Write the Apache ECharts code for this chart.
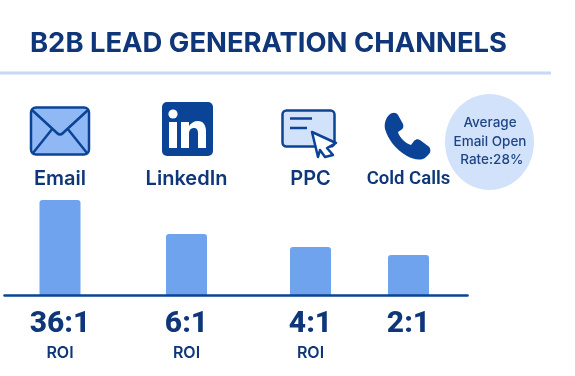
<!DOCTYPE html>
<html lang="en">
<head>
<meta charset="UTF-8">
<title>B2B Lead Generation Channels</title>
<script src="https://cdn.jsdelivr.net/npm/echarts@6/dist/echarts.min.js"></script>
<style>
    html, body { margin: 0; background: #fff; }
    #main { width: 575px; height: 376px; }
</style>
</head>
<body>
<div id="main"></div>
<script>
    var titleText = 'B2B LEAD GENERATION CHANNELS';
    var channels = ['Email', 'LinkedIn', 'PPC', 'Cold Calls'];
    var barValues = [95, 61, 48, 40];   // bars are not drawn to ROI scale in the picture
    var roiRatios = ['36:1', '6:1', '4:1', '2:1'];
    var roiCaptions = ['ROI', 'ROI', 'ROI', ''];
    var noteLines = ['Average', 'Email Open', ' Rate:28%'];

    var navy = '#0e3678', blue = '#0b4496';
    var font = 'Inter';
    var gridLefts = [39.5, 166, 290, 388];   // columns are unevenly spaced
    var nameFonts = ['Inter', 'Inter', 'Inter', 'Roboto'];   // Cold Calls is set tighter
    var nameSizes = [20, 20, 20, 18.5];

    var grids = [], xAxes = [], yAxes = [], series = [];
    channels.forEach(function (name, i) {
        grids.push({left: gridLefts[i], width: 41, top: 200, height: 95});
        xAxes.push({
            type: 'category', gridIndex: i, data: [name], position: 'bottom',
            axisLine: {show: false}, axisTick: {show: false},
            axisLabel: {
                margin: 11, interval: 0,
                formatter: function () {
                    var s = '{v|' + roiRatios[i] + '}';
                    return roiCaptions[i] ? s + '\n{r|' + roiCaptions[i] + '}' : s;
                },
                verticalAlign: 'top',
                rich: {
                    v: {fontFamily: 'Roboto', fontWeight: 800, fontSize: 30, lineHeight: 37, color: navy},
                    r: {fontFamily: font, fontWeight: 600, fontSize: 16, lineHeight: 20, color: navy}
                }
            }
        });
        xAxes.push({
            type: 'category', gridIndex: i, data: [name], position: 'top',
            axisLine: {show: false}, axisTick: {show: false},
            axisLabel: {margin: 11, interval: 0, fontFamily: nameFonts[i], fontWeight: 600, fontSize: nameSizes[i], color: navy}
        });
        yAxes.push({type: 'value', gridIndex: i, min: 0, max: 95, show: false});
        series.push({
            type: 'bar', xAxisIndex: i * 2, yAxisIndex: i, barWidth: '100%',
            data: [barValues[i]], silent: true,
            itemStyle: {color: '#6fa3ee', borderRadius: [3, 3, 0, 0]}
        });
    });

    // wide grid only for the baseline under all bars
    grids.push({left: 4.5, width: 463, top: 200, height: 95});
    xAxes.push({
        type: 'category', gridIndex: 4, data: [''], z: 5,
        axisLine: {show: true, lineStyle: {color: blue, width: 2.5}},
        axisTick: {show: false}, axisLabel: {show: false}
    });
    yAxes.push({type: 'value', gridIndex: 4, show: false});

    // graphic has no plain svg path type, so register each icon outline
    var pathCount = 0;
    function iconPath(d, style) {
        var name = 'iconPath' + (pathCount++);
        echarts.graphic.registerShape(name, echarts.graphic.extendPath(d));
        return {type: name, style: style};
    }

    var icons = [
        // header rule
        {type: 'rect', shape: {x: 0, y: 71.5, width: 551, height: 3}, style: {fill: '#c5d8f8'}},
        // note bubble
        {type: 'ellipse', z: -1, shape: {cx: 489.5, cy: 142, rx: 44.5, ry: 48}, style: {fill: '#d3e2fb'}},
        // envelope
        {type: 'rect', shape: {x: 31, y: 107.5, width: 58, height: 47, r: 5},
            style: {fill: '#8fb8f5', stroke: blue, lineWidth: 2.5}},
        iconPath('M32 110 L57 133 Q60 136 63 133 L88 110 M33 153 L53 128 M87 153 L67 128',
            {fill: 'none', stroke: blue, lineWidth: 2.5}),
        // linkedin
        {type: 'rect', shape: {x: 162, y: 102, width: 51, height: 54, r: 5}, style: {fill: blue}},
        {type: 'circle', shape: {cx: 173, cy: 114, r: 4.6}, style: {fill: '#fff'}},
        {type: 'rect', shape: {x: 169, y: 122, width: 8, height: 26}, style: {fill: '#fff'}},
        iconPath('M181 122 H189 V126 C191 123 194 121 198 121 C203 121 206 125 206 131 V148 H198 V133 C198 129 196 128 194 128 C191 128 189 130 189 134 V148 H181 Z',
            {fill: '#fff'}),
        // ppc card and cursor
        {type: 'rect', shape: {x: 282.5, y: 110.5, width: 52, height: 36, r: 4},
            style: {fill: '#d3e2fb', stroke: blue, lineWidth: 2.5}},
        iconPath('M290 118.5 H312 M290 128 H307', {fill: 'none', stroke: blue, lineWidth: 2.5}),
        iconPath('M312 132 L336 143 L327 148 L333 155 L325 157 L320 150 L318 157 Z',
            {fill: '#fff', stroke: blue, lineWidth: 2.5, lineJoin: 'round'}),
        // phone
        iconPath('M389 115 C392 112 396 112 398 115 L403 124 C404 127 403 129 401 130 L398 132 C399 137 406 144 411 145 L414 141 C416 139 418 139 420 140 L428 146 C431 148 431 152 429 154 L426 157 C422 161 414 160 407 156 C395 149 388 139 385 129 C384 123 386 118 389 115 Z',
            {fill: blue})
    ];

    noteLines.forEach(function (line, i) {
        icons.push({
            type: 'text', x: 490, y: 123 + i * 18.5,
            style: {text: line, fontFamily: font, fontWeight: 500, fontSize: 13.5, fill: '#1d4585',
                align: 'center', verticalAlign: 'middle'}
        });
    });

    var myChart = echarts.init(document.getElementById('main'));
    myChart.setOption({
        backgroundColor: '#fff',
        animation: false,
        title: {
            text: titleText, left: 25, top: 25,
            textStyle: {fontFamily: font, fontWeight: 700, fontSize: 27.4, color: navy}
        },
        grid: grids, xAxis: xAxes, yAxis: yAxes, series: series,
        graphic: {elements: icons}
    });
</script>
</body>
</html>
